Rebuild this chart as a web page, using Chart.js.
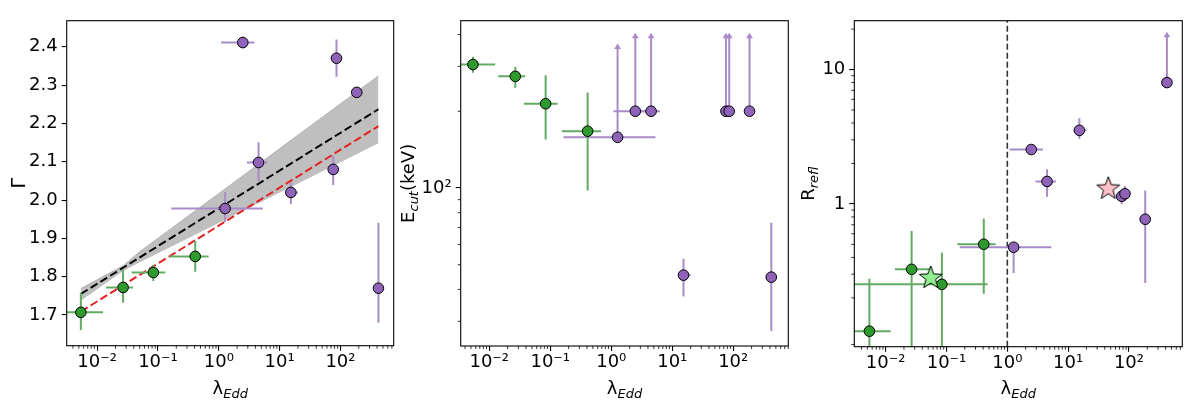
<!DOCTYPE html>
<html>
<head>
<meta charset="utf-8">
<script src="https://cdn.jsdelivr.net/npm/chart.js@4.4.0/dist/chart.umd.min.js"></script>
<style>
body { margin: 0; background: #fff; }
#wrap { position: relative; width: 1200px; height: 400px; }
canvas { position: absolute; top: 0; }
</style>
</head>
<body>
<div id="wrap">
<canvas id="gammaChart" width="400" height="400" style="left:0"></canvas>
<canvas id="ecutChart" width="400" height="400" style="left:400px"></canvas>
<canvas id="reflChart" width="400" height="400" style="left:800px"></canvas>
</div>
<script>
// eddington ratios (green = low, purple = high)
const greenLam = [0.0054, 0.0267, 0.084, 0.41]
const greenLamLo = [0.003, 0.014, 0.037, 0.155]
const greenLamHi = [0.0125, 0.039, 0.132, 0.68]
const purpleLam = [1.27, 2.48, 4.5, 15.3, 76, 86, 185, 421]
const purpleLamLo = [0.165, 1.09, 2.9, 12.5, 76, 86, 185, 421]
const purpleLamHi = [5.3, 3.85, 6.3, 20, 76, 86, 185, 421]
const lamTicks = [0.01, 0.1, 1, 10, 100]

// photon index
const greenGamma = [1.707, 1.772, 1.811, 1.853]
const greenGammaLo = [1.661, 1.732, 1.789, 1.813]
const greenGammaHi = [1.759, 1.819, 1.831, 1.893]
const purpleGamma = [1.978, 2.411, 2.098, 2.020, 2.080, 2.370, 2.281, 1.770]
const purpleGammaLo = [1.943, 2.396, 2.050, 1.990, 2.039, 2.322, 2.281, 1.680]
const purpleGammaHi = [2.021, 2.426, 2.151, 2.045, 2.116, 2.419, 2.281, 1.941]
const fitLam = [0.0054, 421]
const fitAll = [1.755, 2.237]
const fitLow = [1.709, 2.193]
const bandLam = [0.0054, 0.027, 0.05, 1, 10, 100, 421]
const bandHi = [1.769, 1.829, 1.865, 2.017, 2.134, 2.251, 2.324]
const bandLo = [1.739, 1.817, 1.839, 1.942, 2.021, 2.100, 2.150]
const gammaTicks = [1.7, 1.8, 1.9, 2.0, 2.1, 2.2, 2.3, 2.4]

// cutoff energy (keV)
const greenEcut = [305, 274, 214, 167]
const greenEcutLo = [283, 247, 155, 97.7]
const greenEcutHi = [327, 299, 277, 237]
const purpleEcut = [158, 200, 200, 45.5, 200, 200, 200, 44.7]
const purpleEcutLo = [158, 200, 200, 37.5, 200, 200, 200, 27.5]
const purpleEcutHi = [158, 200, 200, 52.8, 200, 200, 200, 73.1]
const purpleEcutLim = [369, 406, 406, null, 406, 406, 406, null]
const ecutTicks = [100]

// reflection fraction
const greenRefl = [0.113, 0.326, 0.252, 0.501]
const greenReflLo = [0.05, 0.05, 0.05, 0.215]
const greenReflHi = [0.278, 0.63, 0.434, 0.778]
const greenReflLamLo = [0.00305, 0.0142, 0.002, 0.151]
const greenReflLamHi = [0.0121, 0.0536, 0.475, 0.643]
const purpleRefl = [0.476, 2.54, 1.47, 3.53, 1.14, 1.19, 0.769, 8.0]
const purpleReflLo = [0.306, 2.54, 1.13, 3.06, 1.0, 1.05, 0.258, 8.0]
const purpleReflHi = [0.52, 2.54, 1.81, 4.34, 1.28, 1.36, 1.26, 8.0]
const purpleReflLim = [null, null, null, null, null, null, null, 19.1]
const starLam = [0.055, 45.7]
const starRefl = [0.286, 1.32]
const splitLam = 1
const reflTicks = [1, 10]

const GREEN = '#2e9a2e', GREEN_BAR = '#62ab62'
const PURPLE = '#8e63b8', PURPLE_BAR = '#a88bc8'
const FONT = "'DejaVu Sans'"

Chart.defaults.font.family = FONT
Chart.defaults.color = '#000'

const sup = { '-': '\u207b', '0': '\u2070', '1': '\u00b9', '2': '\u00b2', '3': '\u00b3' }
function powLabel(v) {
    const e = Math.round(Math.log10(v))
    return '10' + String(e).split('').map(c => sup[c]).join('')
}

function pts(xs, ys) {
    return xs.map((x, i) => ({ x: x, y: ys[i] }))
}

function minorVals(min, max) {
    const out = []
    for (let e = Math.floor(Math.log10(min)); e <= Math.ceil(Math.log10(max)); e++) {
        for (let m = 2; m <= 9; m++) {
            const v = m * Math.pow(10, e)
            if (v >= min && v <= max) out.push(v)
        }
    }
    return out
}

function seg(ctx, x1, y1, x2, y2) {
    ctx.beginPath()
    ctx.moveTo(x1, y1)
    ctx.lineTo(x2, y2)
    ctx.stroke()
}

function drawBars(chart) {
    const ctx = chart.ctx, a = chart.chartArea
    const xs = chart.scales.x, ys = chart.scales.y
    ctx.save()
    ctx.beginPath()
    ctx.rect(a.left, a.top, a.right - a.left, a.bottom - a.top)
    ctx.clip()
    ctx.lineWidth = 2
    chart.data.datasets.forEach(ds => {
        const e = ds.err
        if (!e) return
        ctx.strokeStyle = e.color
        ctx.fillStyle = e.color
        ds.data.forEach((p, i) => {
            const cx = xs.getPixelForValue(p.x), cy = ys.getPixelForValue(p.y)
            if (e.xLo && e.xLo[i] !== e.xHi[i])
                seg(ctx, xs.getPixelForValue(e.xLo[i]), cy, xs.getPixelForValue(e.xHi[i]), cy)
            if (e.yLo && e.yLo[i] !== e.yHi[i])
                seg(ctx, cx, ys.getPixelForValue(e.yLo[i]), cx, ys.getPixelForValue(e.yHi[i]))
            if (e.lim && e.lim[i] != null) {
                const ty = ys.getPixelForValue(e.lim[i])
                seg(ctx, cx, cy, cx, ty + 4)
                ctx.beginPath()
                ctx.moveTo(cx, ty)
                ctx.lineTo(cx - 3.4, ty + 5.5)
                ctx.lineTo(cx + 3.4, ty + 5.5)
                ctx.closePath()
                ctx.fill()
            }
        })
    })
    ctx.restore()
}

function richText(ctx, parts, x, y, rot) {
    ctx.save()
    ctx.translate(x, y)
    ctx.rotate(rot)
    ctx.fillStyle = '#000'
    ctx.textBaseline = 'alphabetic'
    let w = 0
    parts.forEach(p => {
        ctx.font = p.f
        p.w = ctx.measureText(p.t).width
        w += p.w
    })
    let xx = -w / 2
    parts.forEach(p => {
        ctx.font = p.f
        ctx.fillText(p.t, xx, p.dy || 0)
        xx += p.w
    })
    ctx.restore()
}

const lamTitle = [
    { t: '\u03bb', f: '18px ' + FONT },
    { t: 'Edd', f: 'italic 13px ' + FONT, dy: 4 }
]

const framePlugin = {
    id: 'frame',
    beforeDatasetDraw(chart, args) {
        if (chart.data.datasets[args.index].barsBefore) drawBars(chart)
    },
    afterDraw(chart, args, opts) {
        const ctx = chart.ctx, a = chart.chartArea
        ctx.save()
        ctx.strokeStyle = '#000'
        ctx.lineWidth = 0.8
        const xs = chart.scales.x, ys = chart.scales.y
        minorVals(xs.min, xs.max).forEach(v => {
            const p = xs.getPixelForValue(v)
            seg(ctx, p, a.bottom, p, a.bottom + 3)
        })
        if (ys.type === 'logarithmic') {
            minorVals(ys.min, ys.max).forEach(v => {
                const p = ys.getPixelForValue(v)
                seg(ctx, a.left - 3, p, a.left, p)
            })
        }
        ctx.lineWidth = 1.1
        ctx.strokeRect(a.left, a.top, a.right - a.left, a.bottom - a.top)
        ctx.restore()
        richText(ctx, lamTitle, (a.left + a.right) / 2, 394, 0)
        richText(ctx, opts.yTitle, opts.yTitleX, (a.top + a.bottom) / 2, -Math.PI / 2)
    }
}

function makeScales(c) {
    return {
        x: {
            type: 'logarithmic', min: c.xMin, max: c.xMax, bounds: 'data',
            afterBuildTicks: s => { s.ticks = lamTicks.map(v => ({ value: v })) },
            afterFit: s => { s.height = 400 - c.bottom },
            ticks: { callback: v => powLabel(v), font: { size: 18 }, padding: 1, maxRotation: 0, autoSkip: false },
            grid: { drawOnChartArea: false, tickLength: 5, color: '#000', lineWidth: 1.1 },
            border: { display: false }
        },
        y: {
            type: c.yType, min: c.yMin, max: c.yMax, bounds: 'data',
            afterBuildTicks: s => { s.ticks = c.yTicks.map(v => ({ value: v })) },
            afterFit: s => { s.width = c.left },
            ticks: { callback: c.yFmt, font: { size: 18 }, padding: 4, autoSkip: false },
            grid: { drawOnChartArea: false, tickLength: 5, color: '#000', lineWidth: 1.1 },
            border: { display: false }
        }
    }
}

function markerSet(data, fill, err, extra) {
    return Object.assign({
        data: data, showLine: false,
        pointRadius: 5.3, pointBackgroundColor: fill,
        pointBorderColor: '#000', pointBorderWidth: 1,
        err: err
    }, extra || {})
}

function baseOptions(c, yTitle, yTitleX) {
    return {
        responsive: false, animation: false,
        layout: { padding: { left: 0, right: c.right, top: c.top, bottom: 0 } },
        scales: makeScales(c),
        plugins: {
            legend: { display: false },
            tooltip: { enabled: false },
            frame: { yTitle: yTitle, yTitleX: yTitleX }
        }
    }
}

// panel 1: Gamma vs lambda
new Chart(document.getElementById('gammaChart'), {
    type: 'line',
    data: {
        datasets: [
            markerSet(pts(purpleLam, purpleGamma), PURPLE,
                { color: PURPLE_BAR, xLo: purpleLamLo, xHi: purpleLamHi, yLo: purpleGammaLo, yHi: purpleGammaHi }),
            markerSet(pts(greenLam, greenGamma), GREEN,
                { color: GREEN_BAR, xLo: greenLamLo, xHi: greenLamHi, yLo: greenGammaLo, yHi: greenGammaHi },
                { barsBefore: true }),
            { data: pts(fitLam, fitLow), borderColor: '#e02222', borderWidth: 2, borderDash: [8, 3.5], pointRadius: 0 },
            { data: pts(fitLam, fitAll), borderColor: '#000', borderWidth: 2, borderDash: [8, 3.5], pointRadius: 0 },
            { data: pts(bandLam, bandHi), borderColor: '#b0b0b0', borderWidth: 1, pointRadius: 0, fill: '+1', backgroundColor: '#bfbfbf' },
            { data: pts(bandLam, bandLo), borderColor: '#b0b0b0', borderWidth: 1, pointRadius: 0, fill: false }
        ]
    },
    options: baseOptions({
        xMin: 0.00316, xMax: 750, yType: 'linear', yMin: 1.62, yMax: 2.468,
        yTicks: gammaTicks, yFmt: v => v.toFixed(1),
        left: 66.7, right: 6, top: 20.7, bottom: 345.7
    }, [{ t: '\u0393', f: '19px ' + FONT }], 25),
    plugins: [framePlugin]
})

// panel 2: Ecut vs lambda
new Chart(document.getElementById('ecutChart'), {
    type: 'line',
    data: {
        datasets: [
            markerSet(pts(purpleLam, purpleEcut), PURPLE,
                { color: PURPLE_BAR, xLo: purpleLamLo, xHi: purpleLamHi, yLo: purpleEcutLo, yHi: purpleEcutHi, lim: purpleEcutLim }),
            markerSet(pts(greenLam, greenEcut), GREEN,
                { color: GREEN_BAR, xLo: greenLamLo, xHi: greenLamHi, yLo: greenEcutLo, yHi: greenEcutHi },
                { barsBefore: true })
        ]
    },
    options: baseOptions({
        xMin: 0.0034, xMax: 800, yType: 'logarithmic', yMin: 24.0, yMax: 453,
        yTicks: ecutTicks, yFmt: v => powLabel(v),
        left: 60.7, right: 11.7, top: 20.7, bottom: 346
    }, [
        { t: 'E', f: '18px ' + FONT },
        { t: 'cut', f: 'italic 13px ' + FONT, dy: 4 },
        { t: '(keV)', f: '18px ' + FONT }
    ], 14),
    plugins: [framePlugin]
})

// star markers
function starImage(fill) {
    const c = document.createElement('canvas')
    c.width = 28
    c.height = 28
    const g = c.getContext('2d')
    g.beginPath()
    for (let k = 0; k < 10; k++) {
        const r = k % 2 ? 5 : 12
        const ang = -Math.PI / 2 + k * Math.PI / 5
        g.lineTo(14 + r * Math.cos(ang), 15 + r * Math.sin(ang))
    }
    g.closePath()
    g.fillStyle = fill
    g.fill()
    g.strokeStyle = '#000'
    g.lineWidth = 1
    g.stroke()
    return c
}

const reflMin = 0.0866, reflMax = 23.1

// panel 3: R vs lambda
new Chart(document.getElementById('reflChart'), {
    type: 'line',
    data: {
        datasets: [
            { data: pts(starLam, starRefl), showLine: false, pointStyle: [starImage('#90ee90'), starImage('#ffc0cb')] },
            markerSet(pts(purpleLam, purpleRefl), PURPLE,
                { color: PURPLE_BAR, xLo: purpleLamLo, xHi: purpleLamHi, yLo: purpleReflLo, yHi: purpleReflHi, lim: purpleReflLim }),
            markerSet(pts(greenLam, greenRefl), GREEN,
                { color: GREEN_BAR, xLo: greenReflLamLo, xHi: greenReflLamHi, yLo: greenReflLo, yHi: greenReflHi },
                { barsBefore: true }),
            { data: pts([splitLam, splitLam], [reflMin, reflMax]), borderColor: '#333', borderWidth: 1.6, borderDash: [6, 3], pointRadius: 0 }
        ]
    },
    options: baseOptions({
        xMin: 0.00305, xMax: 753, yType: 'logarithmic', yMin: reflMin, yMax: reflMax,
        yTicks: reflTicks, yFmt: v => String(v),
        left: 54.3, right: 17.7, top: 20.7, bottom: 346.7
    }, [
        { t: 'R', f: '18px ' + FONT },
        { t: 'refl', f: 'italic 13px ' + FONT, dy: 4 }
    ], 14),
    plugins: [framePlugin]
})
</script>
</body>
</html>
